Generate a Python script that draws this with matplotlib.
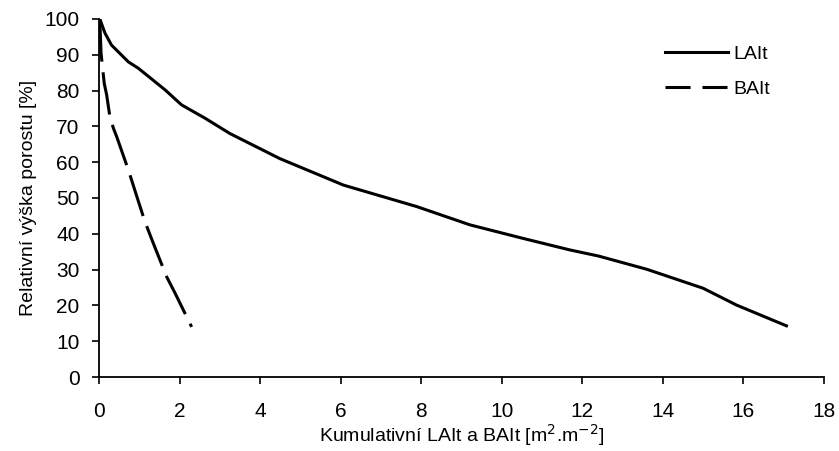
import matplotlib
matplotlib.use("Agg")
import matplotlib.pyplot as plt
from matplotlib.lines import Line2D

plt.rcParams['font.family'] = ['Liberation Sans', 'DejaVu Sans']

lait_x = [0.02, 0.15, 0.31, 0.73, 0.98, 1.64, 2.05, 2.63, 3.25, 4.49, 6.07, 7.89, 9.21, 10.5, 11.69, 12.4, 13.6, 15.0, 15.83, 17.07]
lait_y = [100, 96, 92.7, 88, 86.2, 80.2, 76, 72.3, 68, 61, 53.6, 47.6, 42.5, 38.8, 35.5, 33.8, 30.1, 24.8, 20.1, 14.3]

bait_x = [0.02, 0.05, 0.13, 0.19, 0.27, 0.36, 0.44, 0.73, 0.94, 1.14, 1.35, 1.68, 1.89, 2.3]
bait_y = [100, 90.5, 82, 78.8, 72.7, 69.4, 67.1, 57.8, 50.4, 43.4, 37.3, 28, 23.4, 14]

xticks = list(range(0, 19, 2))
yticks = list(range(0, 101, 10))

fig = plt.figure(figsize=(8.39, 4.51), dpi=100)
ax = fig.add_axes([0.118, 0.164, 0.864, 0.794])

lw = 2.2
ax.plot(lait_x, lait_y, color='black', lw=lw, solid_joinstyle='round')
ax.plot(bait_x, bait_y, color='black', lw=lw, dashes=(14, 3.5), dash_capstyle='butt')

ax.set_xlim(0, 18)
ax.set_ylim(0, 100)
ax.set_xticks(xticks)
ax.set_yticks(yticks)
ax.tick_params(direction='out', length=5, width=1.2, labelsize=15)
ax.tick_params(axis='x', pad=13)
ax.tick_params(axis='y', pad=9)
for s in ['top', 'right']:
    ax.spines[s].set_visible(False)
for s in ['left', 'bottom']:
    ax.spines[s].set_linewidth(1.3)

ax.set_xlabel('Kumulativní LAIt a BAIt [m$^{2}$.m$^{-2}$]', fontsize=14, labelpad=1)
ax.set_ylabel('Relativní výška porostu [%]', fontsize=14, labelpad=5)

handles = [Line2D([], [], color='black', lw=lw),
           Line2D([], [], color='black', lw=lw, dashes=(8.2, 3.9))]
ax.legend(handles, ['LAIt', 'BAIt'], loc='upper left',
          bbox_to_anchor=(665 / 839, 1 - 45 / 451), bbox_transform=fig.transFigure,
          frameon=False, fontsize=14, handlelength=3.24, handletextpad=0.3,
          labelspacing=0.9, borderpad=0, borderaxespad=0)

fig.savefig('out.png', dpi=100)
